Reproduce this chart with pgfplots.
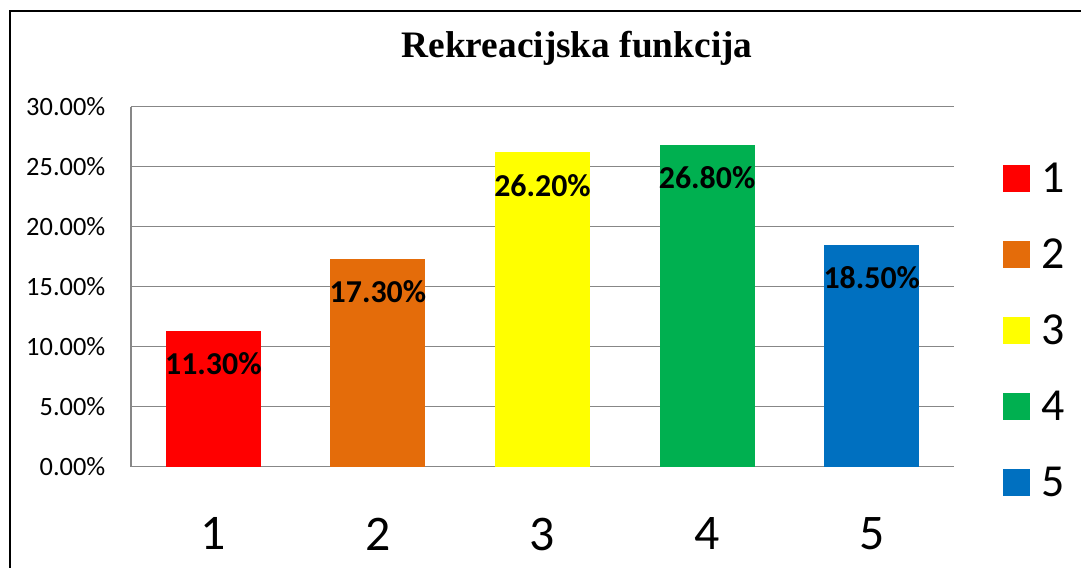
\documentclass[border=0pt]{standalone}
\usepackage{fontspec}
\setmainfont{Carlito}
\newfontfamily\titlefont{Liberation Serif}
\usepackage{pgfplots}
\pgfplotsset{compat=1.18}

\definecolor{c1}{HTML}{FF0000}
\definecolor{c2}{HTML}{E46C0A}
\definecolor{c3}{HTML}{FFFF00}
\definecolor{c4}{HTML}{00B050}
\definecolor{c5}{HTML}{0070C0}
\definecolor{gridgray}{HTML}{878787}

\begin{document}
\begin{tikzpicture}
% page = 1081 x 568 px, axis box origin at (131, 467) in the reference
\useasboundingbox (-131bp,-101.3bp) rectangle (950bp,466.7bp);
\draw[black, line width=1.5bp] (-121bp,-130bp) -- (-121bp,455.7bp) -- (990bp,455.7bp);
\begin{axis}[
    at={(0,0)}, anchor=south west,
    width=823bp, height=360bp, scale only axis,
    /pgf/number format/assume math mode=true,
    xmin=0.5, xmax=5.5, ymin=0, ymax=30,
    ybar, bar width=95bp,
    axis x line=bottom, axis y line=left,
    axis line style={-, draw=gridgray, line width=1.5bp},
    ymajorgrids, grid style={draw=gridgray, line width=1.5bp},
    major tick length=0pt,
    xtick={1,2,3,4,5},
    ytick={0,5,10,15,20,25,30},
    yticklabel={\pgfmathprintnumber[fixed,fixed zerofill,precision=2]{\tick}\%},
    yticklabel style={font=\fontsize{26.5}{26.5}\selectfont, anchor=east, inner sep=0pt, xshift=-25.5bp},
    xticklabel style={font=\fontsize{50}{50}\selectfont, anchor=north, inner sep=0pt, yshift=-51bp},
    title={Rekreacijska funkcija},
    title style={at={(0.542,1.1206)}, anchor=base, inner sep=0pt,
        font=\titlefont\bfseries\fontsize{37.5}{37.5}\selectfont},
    nodes near coords={\pgfmathprintnumber[fixed,fixed zerofill,precision=2]{\pgfplotspointmeta}\%},
    every node near coord/.append style={font=\bfseries\fontsize{32}{32}\selectfont,
        text=black, anchor=center, yshift=-33bp},
    legend image code/.code={\fill[#1,/tikz/.cd] (0bp,-13.5bp) rectangle (27bp,13.5bp);},
    legend cell align=left,
    legend style={at={(1.0595,0.845)}, anchor=north west, draw=none, fill=none,
        inner sep=0pt, row sep=45bp, column sep=11bp,
        font=\fontsize{46}{46}\selectfont, nodes={inner sep=0pt}},
]
\addplot[fill=c1, draw=none, bar shift=0pt] coordinates {(1,11.3)};
\addplot[fill=c2, draw=none, bar shift=0pt] coordinates {(2,17.3)};
\addplot[fill=c3, draw=none, bar shift=0pt] coordinates {(3,26.2)};
\addplot[fill=c4, draw=none, bar shift=0pt] coordinates {(4,26.8)};
\addplot[fill=c5, draw=none, bar shift=0pt] coordinates {(5,18.5)};
\legend{1,2,3,4,5}
\end{axis}
\end{tikzpicture}
\end{document}
